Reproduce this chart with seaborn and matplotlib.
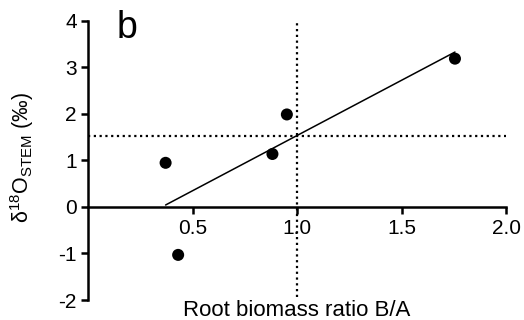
import matplotlib
matplotlib.use("Agg")
import matplotlib.pyplot as plt
import seaborn as sns
import pandas as pd

# data
root_ratio = [0.371, 0.431, 0.882, 0.951, 1.755]
d18o_stem = [0.95, -1.03, 1.14, 1.99, 3.19]
ref_x = 1.0
ref_y = 1.52
x_ticks = [0.5, 1.0, 1.5, 2.0]
y_ticks = [-2, -1, 0, 1, 2, 3, 4]

sns.set_theme(style="ticks")
plt.rcParams['font.family'] = ['Liberation Sans', 'DejaVu Sans']
plt.rcParams['mathtext.fontset'] = 'custom'
plt.rcParams['mathtext.rm'] = 'Liberation Sans'
plt.rcParams['mathtext.default'] = 'regular'

df = pd.DataFrame({"x": root_ratio, "y": d18o_stem})

fig = plt.figure(figsize=(5.24, 3.2), dpi=100)
ax = fig.add_axes([0.168, 0.0625, 0.798, 0.8719])

sns.regplot(data=df, x="x", y="y", ax=ax, ci=None, truncate=True,
            scatter_kws=dict(s=75, color="black", edgecolor="none", alpha=1),
            line_kws=dict(color="black", lw=1.1))

ax.plot([0, 2.0], [ref_y, ref_y], color="black", lw=1.6, ls=(0, (1, 1.6)))
ax.plot([ref_x, ref_x], [-1.94, 4.0], color="black", lw=1.6, ls=(0, (1, 1.6)))

ax.set_xlim(0, 2.0)
ax.set_ylim(-2, 4)
ax.set_xticks(x_ticks)
ax.set_xticklabels(["0.5", "1.0", "1.5", "2.0"])
ax.set_yticks(y_ticks)
ax.set_yticklabels([str(v) for v in y_ticks])

for s in ["top", "right"]:
    ax.spines[s].set_visible(False)
ax.spines["bottom"].set_position(("data", 0))
for s in ["left", "bottom"]:
    ax.spines[s].set_linewidth(1.8)
    ax.spines[s].set_color("black")
ax.tick_params(axis="both", length=5, width=1.8, colors="black", labelsize=15, direction="out")
ax.tick_params(axis="x", pad=4)
ax.tick_params(axis="y", pad=3)

ax.set_xlabel("Root biomass ratio B/A", fontsize=16, color="black")
ax.xaxis.set_label_coords(0.5, 0.0)
ax.set_ylabel(r"δ$^{18}$O$_{STEM}$ (‰)", fontsize=15.5, color="black")
ax.yaxis.set_label_coords(-0.125, 0.51)

fig.text(0.223, 0.881, "b", fontsize=27, color="black", va="baseline", ha="left")

fig.savefig("out.png", dpi=100)
